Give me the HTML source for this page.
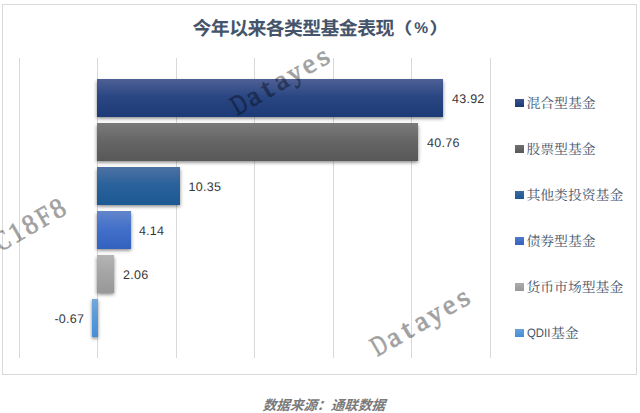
<!DOCTYPE html>
<html lang="zh"><head><meta charset="utf-8"><title>今年以来各类型基金表现（%）</title>
<style>
html,body{margin:0;padding:0;background:#fff}
html{width:640px;height:413px;overflow:hidden}
body{width:640px;height:413px;position:relative;overflow:hidden;font-family:"Liberation Sans",sans-serif;text-rendering:geometricPrecision}
.chart{position:absolute;left:2px;top:4px;width:635px;height:371px;box-sizing:border-box;border:1px solid #d9d9d9;background:#fff}
.abs{position:absolute;left:0;top:0;width:640px;height:413px}
.gl{position:absolute;top:58px;width:1px;height:300px;background:#d9d9d9}
.bar{position:absolute;box-shadow:0 1.5px 3.6px rgba(0,0,0,.5)}
.lbl{position:absolute;font-size:12.5px;line-height:16px;height:16px;color:#363636;white-space:nowrap;letter-spacing:.25px}
.mk{position:absolute;width:9px;height:8px}
.lg{position:absolute;font-size:12.2px;line-height:16px;color:#44546a;white-space:nowrap;transform-origin:0 50%;transform:scaleX(.93)}
.sr{position:absolute;color:transparent;font-size:13px;line-height:16px;white-space:nowrap;overflow:hidden}
.wmt{font-family:"Liberation Serif",serif;font-weight:normal;font-size:28px;text-anchor:middle;fill:#000;stroke:#000;stroke-width:.75px;stroke-linejoin:round;opacity:.37}
svg{position:absolute;left:0;top:0}
.ttl{font-family:"Liberation Sans","Noto Sans CJK SC",sans-serif;font-weight:bold;fill:#44546a}
.lgt{font-family:"Liberation Serif","Noto Serif CJK SC",serif;font-size:13.85px;fill:#44546a}
.src{font-family:"Liberation Sans","Noto Sans CJK SC",sans-serif;font-weight:bold;font-size:13.6px;fill:#7a7a7a}
</style></head>
<body>
<div class="chart"></div>
<div class="abs plot"><div class="gl" style="left:19px"></div><div class="gl" style="left:97px"></div><div class="gl" style="left:176px"></div><div class="gl" style="left:254px"></div><div class="gl" style="left:333px"></div><div class="gl" style="left:411px"></div><div class="gl" style="left:490px"></div>
<div class="bar" style="left:97.00px;top:79.00px;width:346.00px;height:37.60px;background:linear-gradient(180deg,#4f6096 0%,#2b4783 45%,#1c3a76 100%)"></div>
<div class="bar" style="left:97.00px;top:123.04px;width:320.80px;height:37.60px;background:linear-gradient(180deg,#7b7b7b 0%,#666666 45%,#585858 100%)"></div>
<div class="bar" style="left:97.00px;top:167.08px;width:83.00px;height:37.60px;background:linear-gradient(180deg,#4d72a3 0%,#2a629b 45%,#1c5893 100%)"></div>
<div class="bar" style="left:97.00px;top:211.12px;width:33.90px;height:37.60px;background:linear-gradient(180deg,#6286cb 0%,#4370c9 45%,#3361c0 100%)"></div>
<div class="bar" style="left:97.00px;top:255.16px;width:16.90px;height:37.60px;background:linear-gradient(180deg,#b4b4b4 0%,#a6a6a6 45%,#989898 100%)"></div>
<div class="bar" style="left:92.00px;top:299.20px;width:6.00px;height:37.60px;background:linear-gradient(180deg,#73a8dc 0%,#5a9bd8 45%,#478dd6 100%)"></div>
<span class="lbl" style="left:452.00px;top:91.10px">43.92</span>
<span class="lbl" style="left:427.10px;top:135.14px">40.76</span>
<span class="lbl" style="left:188.60px;top:179.18px">10.35</span>
<span class="lbl" style="left:138.90px;top:223.22px">4.14</span>
<span class="lbl" style="left:123.00px;top:267.26px">2.06</span>
<span class="lbl neg" style="right:555.80px;top:311.30px">-0.67</span>
</div>
<div class="abs legend">
<div class="mk" style="left:515.00px;top:98.60px;background:linear-gradient(180deg,#3b528c,#1c3a76)"></div>
<span class="sr" style="left:527px;top:94.60px;width:69px">混合型基金</span>
<div class="mk" style="left:515.00px;top:144.77px;background:linear-gradient(180deg,#6f6f6f,#585858)"></div>
<span class="sr" style="left:527px;top:140.77px;width:69px">股票型基金</span>
<div class="mk" style="left:515.00px;top:190.94px;background:linear-gradient(180deg,#3a699f,#1c5893)"></div>
<span class="sr" style="left:527px;top:186.94px;width:96px">其他类投资基金</span>
<div class="mk" style="left:515.00px;top:237.11px;background:linear-gradient(180deg,#517aca,#3361c0)"></div>
<span class="sr" style="left:527px;top:233.11px;width:69px">债券型基金</span>
<div class="mk" style="left:515.00px;top:283.28px;background:linear-gradient(180deg,#acacac,#989898)"></div>
<span class="sr" style="left:527px;top:279.28px;width:96px">货币市场型基金</span>
<div class="mk" style="left:515.00px;top:329.45px;background:linear-gradient(180deg,#65a1da,#478dd6)"></div>
<span class="lg" style="left:527px;top:325.45px">QDII</span><span class="sr" style="left:551px;top:325.45px;width:27px">基金</span>
</div>
<svg width="640" height="413" viewBox="0 0 640 413" role="img" aria-label="今年以来各类型基金表现（%）">
<text class="ttl" x="192.55" y="34.65" font-size="18.9" letter-spacing="-0.6">今年以来各类型基金表现</text>
<text class="ttl" transform="translate(392.37 33.86) scale(1.25 1)" x="0" y="0" font-size="16.2">（</text>
<text class="ttl" x="414.34" y="33.47" font-size="15.6">%</text>
<text class="ttl" transform="translate(429.29 33.86) scale(1.25 1)" x="0" y="0" font-size="16.2">）</text>
<text class="lgt" x="526.40" y="107.50">混合型基金</text>
<text class="lgt" x="526.40" y="153.67">股票型基金</text>
<text class="lgt" x="526.40" y="199.84">其他类投资基金</text>
<text class="lgt" x="526.40" y="246.01">债券型基金</text>
<text class="lgt" x="526.40" y="292.18">货币市场型基金</text>
<text class="lgt" x="550.90" y="338.35">基金</text>
<text class="src" transform="translate(262.50 410.20) skewX(-18)" x="0" y="0">数据来源：通联数据</text>
</svg>
<div class="abs texts">
<h1 class="sr" style="left:193px;top:18px;width:250px;margin:0;font-size:18px;line-height:20px;font-weight:bold">今年以来各类型基金表现（%）</h1>
<p class="sr" style="left:262px;top:396px;width:125px;margin:0">数据来源：通联数据</p>
</div>
<svg class="wms" width="640" height="413" viewBox="0 0 640 413">
<g class="wmt" aria-label="Datayes" transform="translate(236.6 116.2) rotate(-30)"><text transform="translate(8.0 0) scale(0.72 1)">D</text><text transform="translate(24.0 0) scale(1.04 1)">a</text><text transform="translate(40.0 0) scale(1.18 1)">t</text><text transform="translate(56.0 0) scale(1.04 1)">a</text><text transform="translate(72.0 0) scale(0.98 1)">y</text><text transform="translate(88.0 0) scale(1.02 1)">e</text><text transform="translate(104.0 0) scale(1.08 1)">s</text></g>
<g class="wmt" aria-label="Datayes" transform="translate(376.7 357.2) rotate(-30)"><text transform="translate(8.0 0) scale(0.72 1)">D</text><text transform="translate(24.0 0) scale(1.04 1)">a</text><text transform="translate(40.0 0) scale(1.18 1)">t</text><text transform="translate(56.0 0) scale(1.04 1)">a</text><text transform="translate(72.0 0) scale(0.98 1)">y</text><text transform="translate(88.0 0) scale(1.02 1)">e</text><text transform="translate(104.0 0) scale(1.08 1)">s</text></g>
<g class="wmt" aria-label="C18F8" transform="translate(6.9 248.4) rotate(-30)"><text transform="translate(0.0 0) scale(0.75 1)">C</text><text transform="translate(16.0 0) scale(0.97 1)">1</text><text transform="translate(32.0 0) scale(0.95 1)">8</text><text transform="translate(48.0 0) scale(0.87 1)">F</text><text transform="translate(64.0 0) scale(0.95 1)">8</text></g>
</svg>
</body></html>
